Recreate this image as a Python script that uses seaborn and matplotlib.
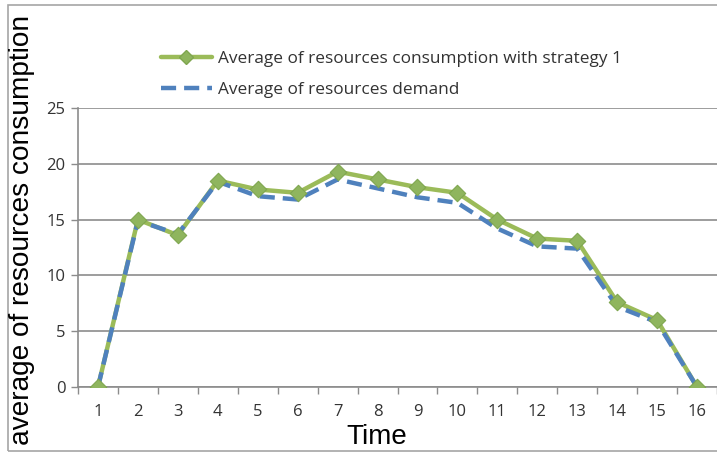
import numpy as np
import pandas as pd
import matplotlib
matplotlib.use("Agg")
import matplotlib.pyplot as plt
from matplotlib.lines import Line2D
from matplotlib.patches import Rectangle
import seaborn as sns

# values
time = list(range(1, 17))
consumption = [0, 15.0, 13.6, 18.5, 17.7, 17.4, 19.3, 18.6, 17.9, 17.4, 15.0, 13.3, 13.1, 7.6, 6.0, 0]
demand = [0, 14.9, 13.7, 18.4, 17.1, 16.8, 18.6, 17.8, 17.0, 16.5, 14.2, 12.6, 12.4, 7.2, 5.8, 0]
y_ticks = [0, 5, 10, 15, 20, 25]

label_cons = "Average of resources consumption with strategy 1"
label_dem = "Average of resources demand"

green = "#9BBB59"
green_marker = "#8FB55E"
blue = "#4F81BD"
grid_gray = "#8C8C8C"

df = pd.DataFrame({"Time": time, "consumption": consumption, "demand": demand})

sns.set_theme(style="white")
plt.rcParams["font.family"] = ["Open Sans", "DejaVu Sans"]

fig = plt.figure(figsize=(7.17, 4.53), dpi=100)
# plot area: left edge at 78px, categories 40.5px apart, extends past right border
ax = fig.add_axes([78 / 717, 1 - 387 / 453, 639 / 717, (387 - 108) / 453])

# outer chart frame
fig.patches.append(Rectangle((8 / 717, 2 / 453), 1.2, 446 / 453, transform=fig.transFigure,
                             fill=False, edgecolor="#A6A6A6", lw=1.2, zorder=0))

sns.lineplot(data=df, x="Time", y="consumption", ax=ax, color=green, lw=3.2, zorder=2)
sns.lineplot(data=df, x="Time", y="demand", ax=ax, color=blue, lw=3.2, zorder=3,
             dashes=False, linestyle=(0, (3.4, 1.8)))
sns.scatterplot(data=df, x="Time", y="consumption", ax=ax, marker="D", s=70,
                color=green_marker, edgecolor="#7FA64F", linewidth=0.8, zorder=4)

ax.set_xlim(0.5, 0.5 + 639 / 40.5)
ax.set_ylim(0, 25)
ax.set_yticks(y_ticks)
ax.set_xticks(time)
ax.set_xticks(np.arange(0.5, 17, 1.0), minor=True)
ax.tick_params(axis="x", which="major", length=0, pad=12, labelsize=12, labelcolor="#333333")
ax.tick_params(axis="x", which="minor", length=5, width=1, color=grid_gray, direction="out", bottom=True)
ax.tick_params(axis="y", length=5, width=1, color=grid_gray, pad=4, labelsize=12,
               labelcolor="#333333", direction="out", left=True)
ax.grid(axis="y", color=grid_gray, lw=1.2)
ax.grid(axis="x", visible=False)
for side in ["top", "right"]:
    ax.spines[side].set_visible(False)
for side in ["left", "bottom"]:
    ax.spines[side].set_color(grid_gray)
    ax.spines[side].set_linewidth(1.2)
ax.set_facecolor("none")

ax.set_xlabel("")
ax.set_ylabel("")
fig.text(377 / 717, 1 - 437 / 453, "Time", fontsize=20, ha="center", va="center",
         color="black", family=["Liberation Sans", "DejaVu Sans"])
fig.text(22 / 717, 1 - 230 / 453, "average of resources consumption", fontsize=20.2,
         rotation=90, ha="center", va="center", color="black",
         family=["Liberation Sans", "DejaVu Sans"])

handles = [
    Line2D([], [], color=green, lw=3.2, marker="D", markersize=7.5,
           markerfacecolor=green_marker, markeredgecolor="#7FA64F"),
    Line2D([], [], color=blue, lw=3.2, linestyle=(0, (3.4, 1.8))),
]
fig.legend(handles, [label_cons, label_dem], loc="upper left",
           bbox_to_anchor=(152 / 717, 1 - 42 / 453), frameon=False, fontsize=12.4,
           handlelength=3.0, handletextpad=0.35, labelspacing=0.9, borderpad=0,
           labelcolor="#333333")

fig.savefig("out.png", dpi=100, facecolor="white")
